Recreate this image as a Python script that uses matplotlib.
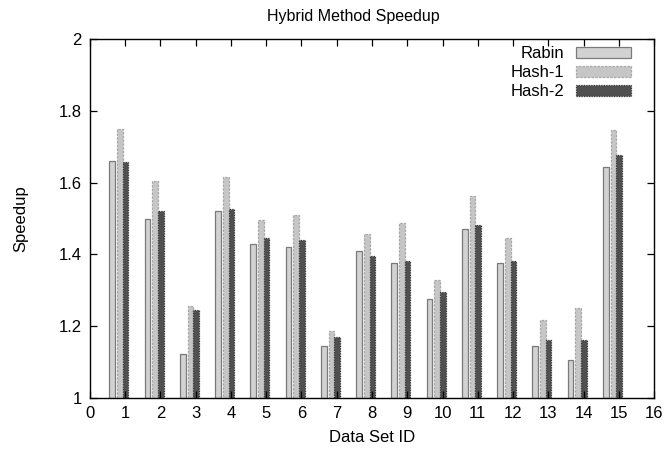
import matplotlib
matplotlib.use("Agg")
import matplotlib.pyplot as plt
import numpy as np

plt.rcParams['font.family'] = ['Liberation Sans', 'DejaVu Sans']

# data
ids = np.arange(1, 16)
rabin = [1.661, 1.498, 1.122, 1.521, 1.430, 1.420, 1.144, 1.409,
         1.375, 1.275, 1.472, 1.377, 1.145, 1.106, 1.643]
hash1 = [1.749, 1.605, 1.255, 1.616, 1.495, 1.509, 1.188, 1.457,
         1.487, 1.329, 1.562, 1.447, 1.218, 1.251, 1.747]
hash2 = [1.657, 1.522, 1.245, 1.526, 1.446, 1.440, 1.170, 1.396,
         1.383, 1.295, 1.483, 1.383, 1.162, 1.162, 1.677]
series_names = ["Rabin", "Hash-1", "Hash-2"]

fig = plt.figure(figsize=(6.69, 4.49), dpi=100)
ax = fig.add_axes([0.1345, 0.1136, 0.8431, 0.7995])

w = 0.16
base = 1.0
ax.bar(ids - 0.37, np.array(rabin) - base, w, bottom=base,
       facecolor="#d2d2d2", edgecolor="#7a7a7a", linewidth=0.9,
       label=series_names[0])
ax.bar(ids - 0.15, np.array(hash1) - base, w, bottom=base,
       facecolor="#c6c6c6", edgecolor="#a8a8a8", linewidth=0.9,
       linestyle=(0, (2, 1)), label=series_names[1])
ax.bar(ids + 0.01, np.array(hash2) - base, w, bottom=base,
       facecolor="#505050", edgecolor="#3a3a3a", linewidth=0.9,
       linestyle=(0, (1, 1)), label=series_names[2])

ax.set_xlim(0, 16)
ax.set_ylim(1, 2)
ax.set_xticks(range(0, 17))
ax.set_yticks([1, 1.2, 1.4, 1.6, 1.8, 2])
ax.set_yticklabels(["1", "1.2", "1.4", "1.6", "1.8", "2"])
ax.tick_params(direction='in', top=True, right=True, length=5,
               width=0.9, labelsize=12, pad=6)
for s in ax.spines.values():
    s.set_linewidth(1.0)

ax.set_xlabel("Data Set ID", fontsize=12, labelpad=6)
ax.set_ylabel("Speedup", fontsize=12, labelpad=22)
fig.text(353 / 669, 1 - 16 / 449, "Hybrid Method Speedup", fontsize=11.5,
         ha='center', va='center')

ax.legend(loc='upper right', frameon=False, markerfirst=False,
          fontsize=12, handlelength=3.3, handleheight=0.6,
          labelspacing=0.25, handletextpad=0.7,
          bbox_to_anchor=(0.985, 1.022))

fig.savefig("out.png", dpi=100)
